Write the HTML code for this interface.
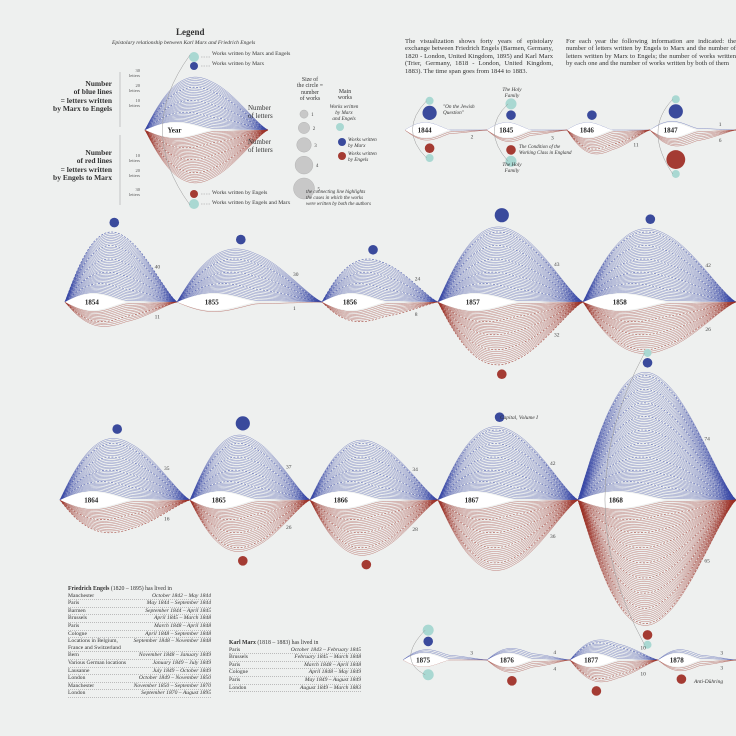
<!DOCTYPE html>
<html><head><meta charset="utf-8">
<style>
html,body{margin:0;padding:0;background:#eef0ef;}
body{width:736px;height:736px;position:relative;overflow:hidden;font-family:"Liberation Serif",serif;color:#333;}
.t{position:absolute;font-size:6.3px;line-height:7.6px;}
.p{position:absolute;font-size:6.6px;line-height:7.4px;text-align:justify;color:#333;}
.res{position:absolute;font-size:5.6px;line-height:6.6px;}
.res .r{display:flex;justify-content:space-between;border-bottom:0.5px dotted #bbb;}
.res .r i{font-style:italic;}
svg{position:absolute;left:0;top:0;}
</style></head>
<body>
<svg id="chart" width="736" height="736" viewBox="0 0 736 736"></svg>

<div class="t" style="left:176px;top:29px;font-size:9px;font-weight:bold;">Legend</div>
<div class="t" style="left:112px;top:40px;font-size:5.5px;font-style:italic;">Epistolary relationship between Karl Marx and Friedrich Engels</div>
<div class="t" style="left:40px;top:80px;font-size:7.5px;line-height:8.3px;font-weight:bold;text-align:right;width:72px;">Number<br>of blue lines<br>= letters written<br>by Marx to Engels</div>
<div class="t" style="left:40px;top:149px;font-size:7.5px;line-height:8.3px;font-weight:bold;text-align:right;width:72px;">Number<br>of red lines<br>= letters written<br>by Engels to Marx</div>
<div class="t" style="left:248px;top:104px;font-size:7px;line-height:8px;">Number<br>of letters</div>
<div class="t" style="left:248px;top:138px;font-size:7px;line-height:8px;">Number<br>of letters</div>
<div class="t" style="left:212px;top:51px;font-size:5.6px;">Works written by Marx and Engels</div>
<div class="t" style="left:212px;top:61px;font-size:5.6px;">Works written by Marx</div>
<div class="t" style="left:212px;top:190px;font-size:5.6px;">Works written by Engels</div>
<div class="t" style="left:212px;top:200px;font-size:5.6px;">Works written by Engels and Marx</div>
<div class="t" style="left:290px;top:77px;font-size:5.8px;line-height:6.3px;text-align:center;width:40px;">Size of<br>the circle =<br>number<br>of works</div>
<div class="t" style="left:330px;top:89px;font-size:5.8px;line-height:6.3px;text-align:center;width:30px;">Main<br>works</div>
<div class="t" style="left:322px;top:105px;font-size:5.2px;line-height:5.8px;text-align:center;width:44px;font-style:italic;">Works written<br>by Marx<br>and Engels</div>
<div class="t" style="left:348px;top:138px;font-size:5.2px;line-height:5.8px;font-style:italic;">Works written<br>by Marx</div>
<div class="t" style="left:348px;top:152px;font-size:5.2px;line-height:5.8px;font-style:italic;">Works written<br>by Engels</div>
<div class="t" style="left:306px;top:190px;font-size:5px;line-height:5.8px;font-style:italic;">the connecting line highlights<br>the cases in which the works<br>were written by both the authors</div>

<div class="p" style="left:405px;top:38px;width:148px;">The visualization shows forty years of epistolary exchange between Friedrich Engels (Barmen, Germany, 1820 - London, United Kingdom, 1895) and Karl Marx (Trier, Germany, 1818 - London, United Kingdom, 1883). The time span goes from 1844 to 1883.</div>
<div class="p" style="left:566px;top:38px;width:170px;">For each year the following information are indicated: the number of letters written by Engels to Marx and the number of letters written by Marx to Engels; the number of works written by each one and the number of works written by both of them</div>

<div class="t" style="left:443px;top:105px;font-size:5.2px;line-height:5.8px;font-style:italic;">"On the Jewish<br>Question"</div>
<div class="t" style="left:500px;top:88px;font-size:5.2px;line-height:5.8px;font-style:italic;text-align:center;width:24px;">The Holy<br>Family</div>
<div class="t" style="left:519px;top:145px;font-size:5px;line-height:5.6px;font-style:italic;">The Condition of the<br>Working Class in England</div>
<div class="t" style="left:500px;top:163px;font-size:5.2px;line-height:5.8px;font-style:italic;text-align:center;width:24px;">The Holy<br>Family</div>
<div class="t" style="left:500px;top:415px;font-size:5.4px;font-style:italic;">Capital, Volume I</div>
<div class="t" style="left:694px;top:679px;font-size:5.4px;font-style:italic;">Anti-Dühring</div>

<div class="res" style="left:68px;top:586px;width:143px;">
<div style="font-size:5.8px;"><b>Friedrich Engels</b> (1820 – 1895) has lived in</div>
<div class="r"><span>Manchester</span><i>October 1842 – May 1844</i></div>
<div class="r"><span>Paris</span><i>May 1844 – September 1844</i></div>
<div class="r"><span>Barmen</span><i>September 1844 – April 1845</i></div>
<div class="r"><span>Brussels</span><i>April 1845 – March 1848</i></div>
<div class="r"><span>Paris</span><i>March 1848 – April 1848</i></div>
<div class="r"><span>Cologne</span><i>April 1848 – September 1848</i></div>
<div class="r" style="border:none"><span>Locations in Belgium,</span><i>September 1848 – November 1848</i></div>
<div class="r"><span>France and Switzerland</span><i></i></div>
<div class="r"><span>Bern</span><i>November 1848 – January 1849</i></div>
<div class="r"><span>Various German locations</span><i>January 1849 – July 1849</i></div>
<div class="r"><span>Lausanne</span><i>July 1849 – October 1849</i></div>
<div class="r"><span>London</span><i>October 1849 – November 1850</i></div>
<div class="r"><span>Manchester</span><i>November 1850 – September 1870</i></div>
<div class="r"><span>London</span><i>September 1870 – August 1895</i></div>
</div>
<div class="res" style="left:229px;top:640px;width:132px;">
<div style="font-size:5.8px;"><b>Karl Marx</b> (1818 – 1883) has lived in</div>
<div class="r"><span>Paris</span><i>October 1843 – February 1845</i></div>
<div class="r"><span>Brussels</span><i>February 1845 – March 1848</i></div>
<div class="r"><span>Paris</span><i>March 1848 – April 1848</i></div>
<div class="r"><span>Cologne</span><i>April 1848 – May 1849</i></div>
<div class="r"><span>Paris</span><i>May 1849 – August 1849</i></div>
<div class="r"><span>London</span><i>August 1849 – March 1883</i></div>
</div>

<script>
// ---- data ----
const years      = [1844,1845,1846,1847,1854,1855,1856,1857,1858,1864,1865,1866,1867,1868,1875,1876,1877,1878];
const marxLetters   = [0,0,0,1,40,30,24,43,42,35,37,34,42,74,3,4,10,3];
const engelsLetters = [2,3,11,6,11,1,8,32,26,16,26,28,36,65,0,4,10,3];
const marxWorks   = [2,1,1,2,1,1,1,2,1,1,2,0,1,1,1,0,0,0];
const engelsWorks = [1,1,0,3,0,0,0,1,0,0,1,1,0,1,0,1,1,1];
const jointWorks  = [1,2,0,1,0,0,0,0,0,0,0,0,0,1,2,0,0,0];
// ---- layout (not data) ----
const layout = [
 [405,487,130,9],[487,567,130,9],[567,650,130,9],[650,736,130,9],
 [65,177,302,10],[177,322,302,10],[322,438,302,10],[438,583,302,10],[583,736,302,10],
 [60,190,500,10],[190,310,500,10],[310,438,500,10],[438,578,500,10],[578,736,500,10],
 [403,487,660,8],[487,570,660,8],[570,658,660,8],[658,736,660,8]
];
const PXB = 1.7, PXR = 1.9;
const PEAK = 0.44;
const NS='http://www.w3.org/2000/svg';
const svg=document.getElementById('chart');
function el(tag,attrs,parent){const e=document.createElementNS(NS,tag);for(const k in attrs)e.setAttribute(k,attrs[k]);(parent||svg).appendChild(e);return e;}
const UEXP=Math.log(0.5)/Math.log(PEAK);
function f(t){if(t<=0||t>=1)return 0;const u=Math.pow(t,UEXP);return Math.pow(Math.sin(Math.PI*u),1.2);}
function g(t){return t>=0.55?0:Math.sin(Math.PI*t/0.55)*Math.pow(1-t/0.55,0.3);}
function curve(x0,x1,base,sign,L,h){let d='';const N=50;for(let i=0;i<=N;i++){const t=i/N;const x=x0+(x1-x0)*t;const y=base-sign*(L*g(t)*(1-0.5*f(t)*Math.min(1,h/30))+h*f(t));d+=(i?'L':'M')+x.toFixed(1)+','+y.toFixed(1);}return d;}
function glyph(x0,x1,base,L,nb,nr,year,gname,showNums,sb,sr){
  const grp=el('g',{});
  
  
  const sets=[[nb,1,'#3a4aa6',sb],[nr,-1,'#9c3429',sr]];
  sets.forEach(([n,s,c,px])=>{
    for(let k=1;k<=n;k++){
      const dash=(k%8===0);
      const p=el('path',{d:curve(x0,x1,base,s,L,n*px*k/n),fill:'none',stroke:c,'stroke-width':dash?0.6:0.5,'stroke-opacity':dash?0.9:0.6},grp);
      if(dash)p.setAttribute('stroke-dasharray','2,1.5');
      
      
    }
    if(n===0){el('path',{d:curve(x0,x1,base,s,L,0),fill:'none',stroke:c,'stroke-width':0.5,'stroke-opacity':0.6},grp);}
  });
  const lens=el('path',{d:curve(x0,x1,base,1,L,0)+curve(x0,x1,base,-1,L,0).replace('M','L'),fill:'#fff'},grp);
  
  
  const w=x1-x0;
  const yt=el('text',{x:x0+w*0.24,y:base+2.5,'font-size':7,'font-weight':'bold','font-family':'Liberation Serif, serif','text-anchor':'middle',fill:'#222'},grp);
  yt.textContent=year;
  
  
  if(showNums){
    const bx=x0+w*0.8;
    if(nb>0){const t=el('text',{x:bx,y:base-3-nb*sb*f(0.8),'font-size':5.5,'font-family':'Liberation Serif, serif',fill:'#444'},grp);t.textContent=nb;}
    if(nr>0){const t=el('text',{x:bx,y:base+7+nr*sr*f(0.8),'font-size':5.5,'font-family':'Liberation Serif, serif',fill:'#444'},grp);t.textContent=nr;}
  }
}
function circ(cx,cy,r,c,name){const e=el('circle',{cx:cx,cy:cy,r:r,fill:c});return e;}
const BLUE='#3a4a9c',RED='#a43b33',TEAL='#a9d8d2';

years.forEach((yr,i)=>{
  const [x0,x1,base,L]=layout[i];
  glyph(x0,x1,base,L,marxLetters[i],engelsLetters[i],yr,'year-glyph-'+yr,true,PXB,PXR);
  const w=x1-x0,small=base<200||base>600;
  const tc=small?0.3:PEAK,px=x0+w*tc;
  const top=base-L*g(tc)-marxLetters[i]*PXB*f(tc);
  const bot=base+L*g(tc)+engelsLetters[i]*PXR*f(tc);
  let yb=top-3;
  if(marxWorks[i]>0){const r=2.5+marxWorks[i]*2.3;yb-=r;circ(px,yb,r,BLUE,'marx-works-circle');yb-=r+1;}
  if(jointWorks[i]>0){const r=2.5+jointWorks[i]*1.5;yb-=r;circ(px,yb,r,TEAL,'joint-works-circle');}
  let yr2=bot+3;
  if(engelsWorks[i]>0){const r=2.5+engelsWorks[i]*2.3;yr2+=r;circ(px,yr2,r,RED,'engels-works-circle');yr2+=r+1;}
  if(jointWorks[i]>0){const r=2.5+jointWorks[i]*1.5;yr2+=r;circ(px,yr2,r,TEAL,'joint-works-circle');
    const a=el('path',{d:`M${px-3},${yb} Q${x0-w*0.08},${base} ${px-3},${yr2}`,fill:'none',stroke:'#999','stroke-width':0.5});
    }
});

// legend glyph
glyph(145,268,130,9,30,30,'Year','legend-glyph',false,1.7,1.7);
circ(194,57,5,TEAL,'legend-joint-circle');circ(194,66,4,BLUE,'legend-marx-circle');
circ(194,194,4,RED,'legend-engels-circle');circ(194,204,5,TEAL,'legend-joint-circle-bottom');
const arc=el('path',{d:'M190,55 Q135,130 190,205',fill:'none',stroke:'#999','stroke-width':0.5});

[57,66,194,204].forEach(y=>{const l=el('line',{x1:201,y1:y,x2:210,y2:y,stroke:'#999','stroke-width':0.5,'stroke-dasharray':'1.5,1'});});
[[72,127],[135,205]].forEach(([a,b])=>{const l=el('path',{d:`M120,${a}V${b}`,fill:'none',stroke:'#999','stroke-width':0.5});});
const letterTicks=[72,87,102,157,172,191];
const letterTickLabels=['30','20','10','10','20','30'];
letterTicks.forEach((y,i)=>{const t=el('text',{x:140,y:y,'font-size':4.5,'text-anchor':'end','font-family':'Liberation Serif, serif',fill:'#555'});t.textContent=letterTickLabels[i];
 const t2=el('text',{x:140,y:y+5,'font-size':4.5,'text-anchor':'end','font-family':'Liberation Serif, serif',fill:'#555'});t2.textContent='letters';});
// size legend
const sizes=[1,2,3,4,5];
let sy=110;
sizes.forEach(s=>{const r=2.5+s*1.6;sy+=r;const c=circ(304,sy,r,'#c8c8c8','size-legend-circle');c.setAttribute('stroke','#aaa');c.setAttribute('stroke-width','0.4');
 const t=el('text',{x:304+r+3,y:sy+2,'font-size':5,'font-family':'Liberation Serif, serif',fill:'#444'});t.textContent=s;sy+=r+4;});
circ(340,127,4,TEAL,'main-works-joint-circle');circ(342,142,4,BLUE,'main-works-marx-circle');circ(342,156,4,RED,'main-works-engels-circle');
</script>
</body></html>
